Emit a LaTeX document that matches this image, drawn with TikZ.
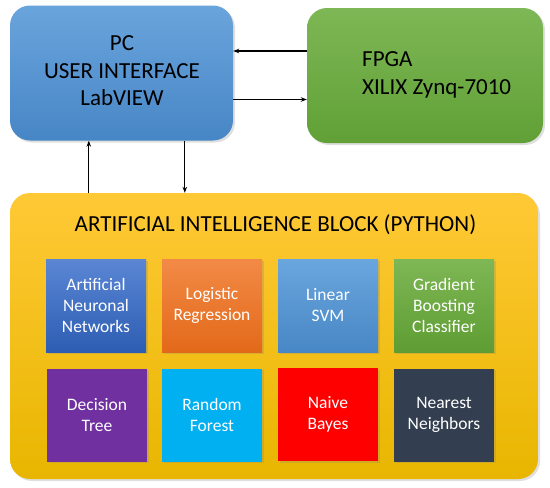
\documentclass[tikz,border=0pt]{standalone}
\usepackage{fontspec}
\setmainfont{Carlito}
\usetikzlibrary{arrows.meta,shadows}
\definecolor{pctop}{HTML}{6AA4DC}
\definecolor{pcbot}{HTML}{4786C6}
\definecolor{fptop}{HTML}{7EB755}
\definecolor{fpbot}{HTML}{60A036}
\definecolor{aitop}{HTML}{FFC936}
\definecolor{aibot}{HTML}{E8B600}
\definecolor{anntop}{HTML}{5A86D4}
\definecolor{annbot}{HTML}{2D5DB3}
\definecolor{lrtop}{HTML}{F28A46}
\definecolor{lrbot}{HTML}{E3691A}
\definecolor{svmtop}{HTML}{6AA6DE}
\definecolor{svmbot}{HTML}{4887C5}
\definecolor{gbtop}{HTML}{7EB755}
\definecolor{gbbot}{HTML}{5E9D33}
\definecolor{dtcol}{HTML}{7030A0}
\definecolor{rfcol}{HTML}{00B0F0}
\definecolor{nbcol}{HTML}{FF0000}
\definecolor{nncol}{HTML}{333F50}
\tikzset{
  bigbox/.style={rounded corners=20pt, draw=none, drop shadow={opacity=0.25,shadow xshift=2pt,shadow yshift=-2pt}, inner sep=0pt},
  bigtext/.style={font=\fontsize{23}{27.5}\selectfont, inner sep=0pt},
  algbox/.style={draw=none, minimum width=100pt, minimum height=93pt, inner sep=0pt, align=center, text=white, font=\fontsize{17.5}{21}\selectfont, drop shadow={opacity=0.25,shadow xshift=1.5pt,shadow yshift=-1.5pt}},
  arr/.style={-{Stealth[length=6pt,width=4.5pt]}, line width=1.1pt, black}
}
\begin{document}
\begin{tikzpicture}[x=1pt,y=-1pt]
\useasboundingbox[fill=white] (0,0) rectangle (550,488);
\node[bigbox, top color=pctop, bottom color=pcbot, minimum width=223pt, minimum height=135pt] (pc) at (121.5,73) {};
\node[bigtext, align=center] (pctxt) at (122,71) {PC\\USER INTERFACE\\LabVIEW};
\node[bigbox, top color=fptop, bottom color=fpbot, minimum width=236pt, minimum height=135pt] (fpga) at (425,75.5) {};
\node[bigtext, align=left, anchor=west] (fpgatxt) at (362,75) {FPGA\\XILIX Zynq-7010};
\node[bigbox, top color=aitop, bottom color=aibot, minimum width=528pt, minimum height=286pt] (ai) at (274,336) {};
\node[bigtext] (aititle) at (275.5,225) {ARTIFICIAL INTELLIGENCE BLOCK (PYTHON)};
\node[algbox, top color=anntop, bottom color=annbot] (ann) at (96,305.5) {Artificial\\Neuronal\\Networks};
\node[algbox, top color=lrtop, bottom color=lrbot] (lr) at (212,305.5) {Logistic\\Regression};
\node[algbox, top color=svmtop, bottom color=svmbot] (svm) at (328,305.5) {Linear\\SVM};
\node[algbox, top color=gbtop, bottom color=gbbot] (gb) at (444,305.5) {Gradient\\Boosting\\Classifier};
\node[algbox, fill=dtcol] (dt) at (97,415) {Decision\\Tree};
\node[algbox, fill=rfcol] (rf) at (212,415) {Random\\Forest};
\node[algbox, fill=nbcol] (nb) at (328,414.5) {Naive\\Bayes};
\node[algbox, fill=nncol] (nn) at (444,415) {Nearest\\Neighbors};
\draw[arr] ([yshift=24.5pt]fpga.west) -- ([yshift=24.5pt]fpga.west -| pc.east);
\draw[arr] ([yshift=-26.5pt]pc.east) -- ([yshift=-26.5pt]pc.east -| fpga.west);
\draw[arr] ([xshift=79pt]ai.north west) -- ([xshift=79pt]ai.north west |- pc.south);
\draw[arr] ([xshift=175pt]pc.south west) -- ([xshift=175pt]pc.south west |- ai.north);
\end{tikzpicture}
\end{document}
